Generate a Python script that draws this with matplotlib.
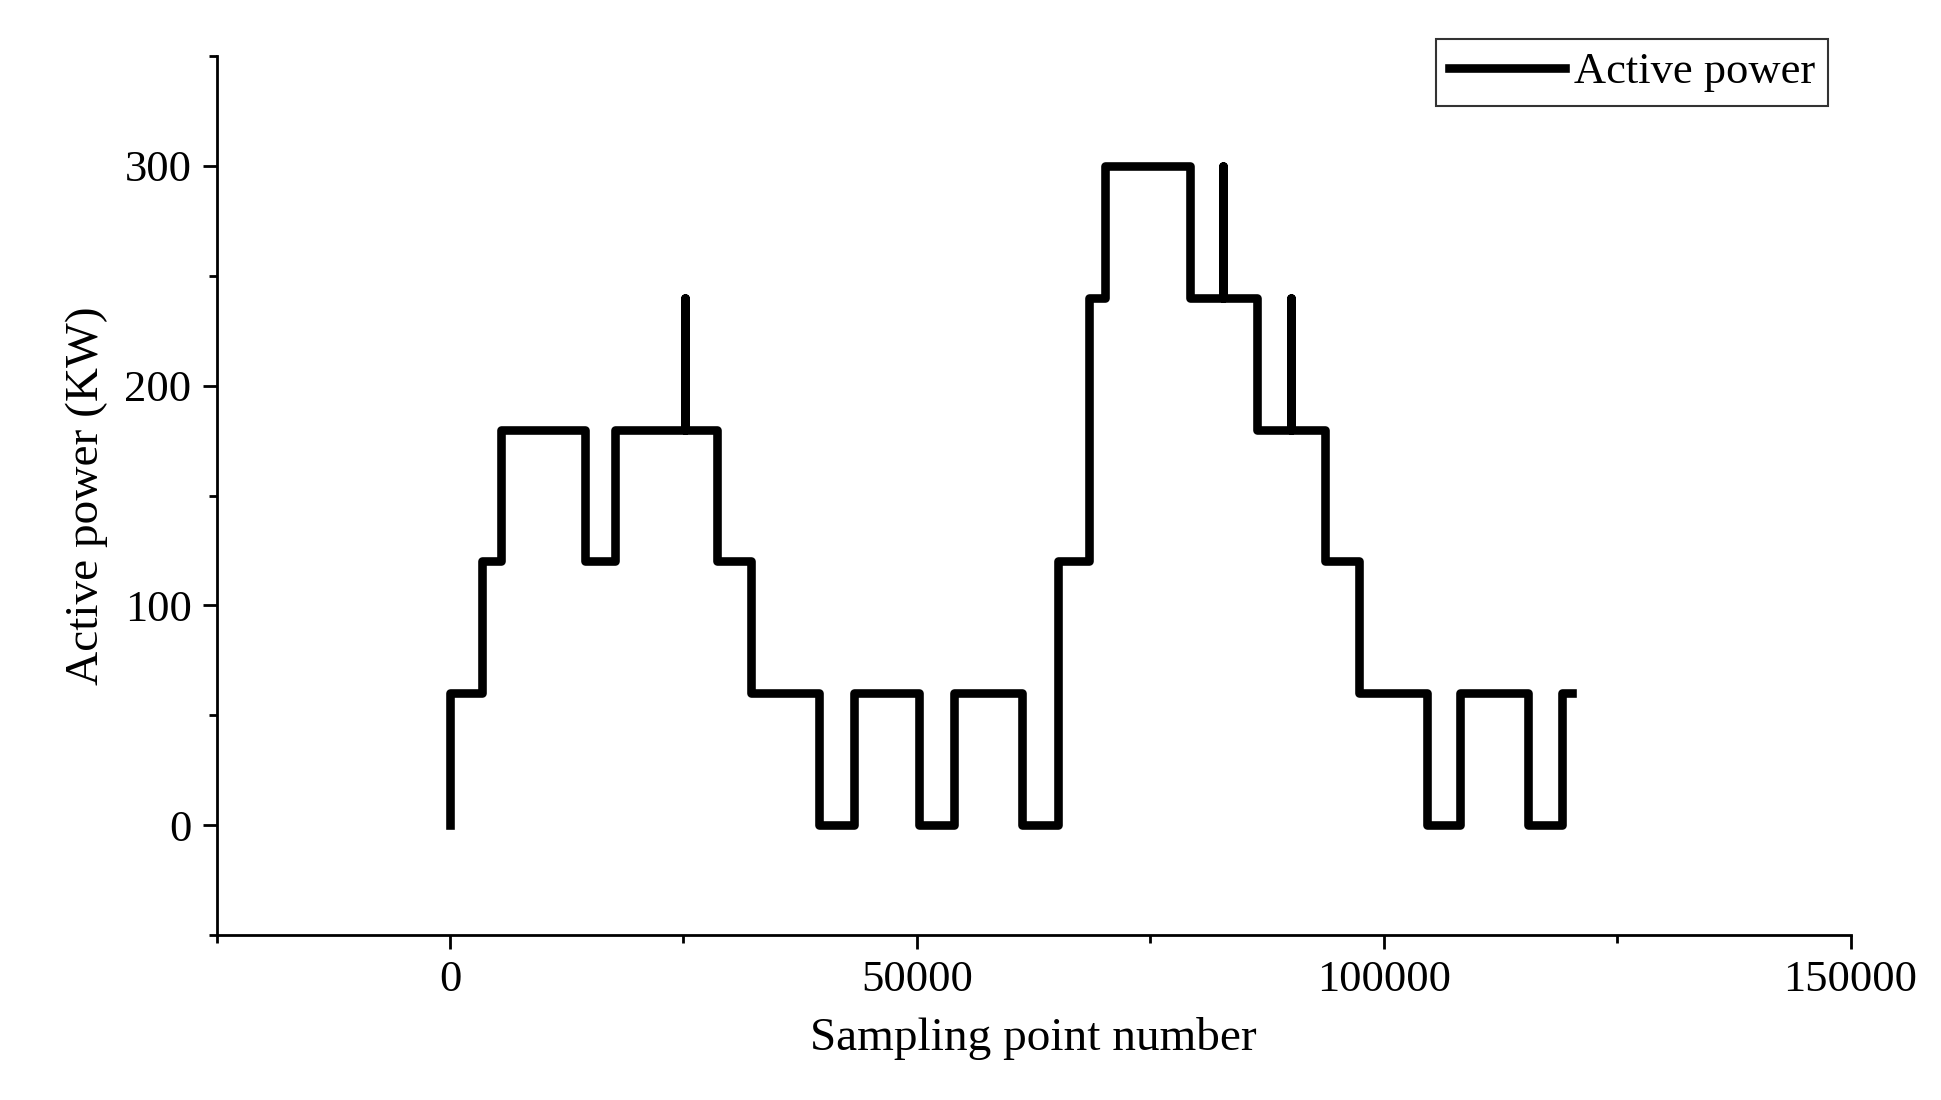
import numpy as np
import matplotlib.pyplot as plt
from matplotlib.ticker import MultipleLocator

plt.rcParams['font.family'] = ['Liberation Serif', 'DejaVu Serif']

# step edges (sampling point) and power level after each edge
step_x = [0, 0, 3450, 5440, 14460, 17640, 25200, 25200, 28640, 32230, 39520, 43230,
          50260, 53970, 61260, 65100, 68400, 70150, 79300, 82750, 82750, 86460,
          90040, 90040, 93750, 97330, 104620, 108200, 115500, 119080, 120140]
step_y = [0, 60, 120, 180, 120, 180, 240, 180, 120, 60, 0, 60,
          0, 60, 0, 120, 240, 300, 240, 300, 240, 180,
          240, 180, 120, 60, 0, 60, 0, 60, 60]

fig = plt.figure(figsize=(19.41, 11), dpi=100)
ax = fig.add_axes([0.1116, 0.150, 0.8418, 0.799])
ax.plot(step_x, step_y, drawstyle='steps-post', color='black', lw=6.2,
        label='Active power')

ax.set_xlim(-25000, 150000)
ax.set_ylim(-50, 350)
ax.xaxis.set_major_locator(MultipleLocator(50000))
ax.xaxis.set_minor_locator(MultipleLocator(25000))
ax.yaxis.set_major_locator(MultipleLocator(100))
ax.yaxis.set_minor_locator(MultipleLocator(50))
ax.set_xticks([0, 50000, 100000, 150000])
ax.set_yticks([0, 100, 200, 300])
for s in ['top', 'right']:
    ax.spines[s].set_visible(False)
for s in ['left', 'bottom']:
    ax.spines[s].set_linewidth(2)
ax.tick_params(which='major', direction='out', length=10, width=2, labelsize=32, pad=8)
ax.tick_params(which='minor', direction='out', length=6, width=2)

ax.set_xlabel('Sampling point number', fontsize=34, labelpad=12)
ax.set_ylabel('Active power (KW)', fontsize=34, labelpad=12)

leg = ax.legend(loc='upper right', bbox_to_anchor=(1.0, 1.045), fontsize=32,
                frameon=True, fancybox=False, edgecolor='black',
                handlelength=2.6, handletextpad=0.2, borderpad=0.3)
leg.get_frame().set_linewidth(1.5)

fig.savefig('out.png', dpi=100)
